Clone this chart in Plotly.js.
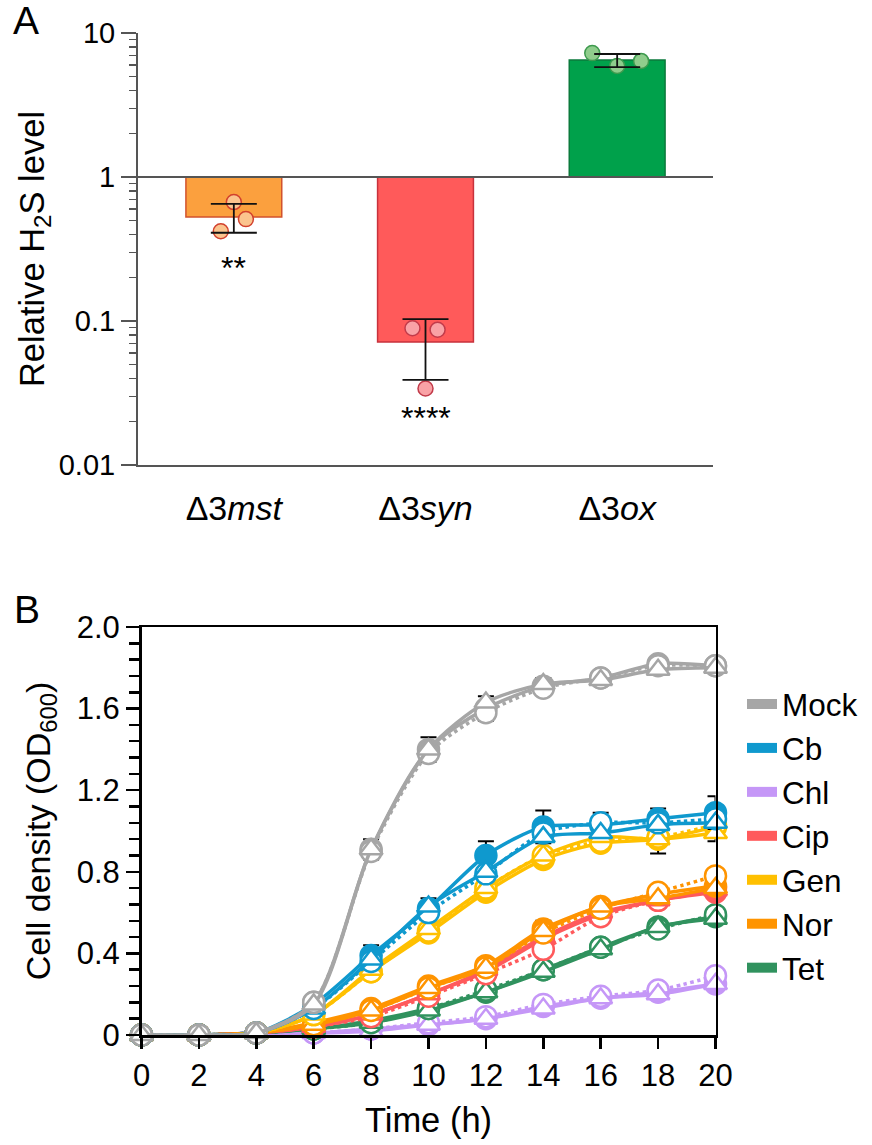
<!DOCTYPE html>
<html>
<head>
<meta charset="utf-8">
<script src="https://cdn.plot.ly/plotly-3.0.1.min.js"></script>
<style>html,body{margin:0;padding:0;background:#fff;}#chart{width:872px;height:1145px;}</style>
</head>
<body>
<div id="chart"></div>
<script>
// ---------- Panel A data ----------
const strainLabels = ['Δ3<i>mst</i>', 'Δ3<i>syn</i>', 'Δ3<i>ox</i>'];
const barMeans = [0.527, 0.0715, 6.49];
const errUpper = [0.65, 0.103, 7.15];
const errLower = [0.41, 0.039, 5.8];
const repMst = [0.67, 0.51, 0.42];
const repSyn = [0.089, 0.087, 0.034];
const repOx = [7.25, 5.9, 6.4];
const significance = ['**', '****', '***'];

// ---------- Panel B data ----------
const hours = [0, 2, 4, 6, 8, 10, 12, 14, 16, 18, 20];
const seriesNames = ['Mock', 'Cb', 'Chl', 'Cip', 'Gen', 'Nor', 'Tet'];

const mockA = [0, 0, 0.01, 0.16, 0.91, 1.40, 1.60, 1.71, 1.75, 1.82, 1.81];
const mockB = [0, 0, 0.01, 0.16, 0.90, 1.38, 1.58, 1.70, 1.75, 1.81, 1.81];
const mockC = [0, 0, 0.01, 0.15, 0.91, 1.40, 1.63, 1.72, 1.74, 1.79, 1.80];
const mockErr = [null, null, null, null, 0.05, 0.06, 0.06, 0.04, 0.03, 0.03, 0.03];

const cbA = [0, 0, 0.01, 0.15, 0.39, 0.62, 0.88, 1.02, 1.03, 1.06, 1.09];
const cbB = [0, 0, 0.01, 0.13, 0.36, 0.60, 0.79, 0.99, 1.04, 1.04, 1.06];
const cbC = [0, 0, 0.01, 0.13, 0.37, 0.63, 0.80, 0.97, 0.99, 1.03, 1.04];
const cbErr = [null, null, null, null, 0.05, 0.05, 0.07, 0.08, 0.06, 0.05, 0.08];

const chlA = [0, 0, 0.01, 0.01, 0.03, 0.05, 0.08, 0.14, 0.18, 0.21, 0.25];
const chlB = [0, 0, 0.01, 0.01, 0.03, 0.06, 0.09, 0.15, 0.19, 0.22, 0.29];
const chlC = [0, 0, 0.01, 0.01, 0.02, 0.05, 0.08, 0.13, 0.18, 0.20, 0.25];
const chlErr = [null, null, null, null, null, null, null, null, null, null, null];

const cipA = [0, 0, 0.01, 0.04, 0.10, 0.20, 0.31, 0.47, 0.59, 0.66, 0.70];
const cipB = [0, 0, 0.01, 0.04, 0.09, 0.19, 0.30, 0.42, 0.58, 0.66, 0.72];
const cipC = [0, 0, 0.01, 0.04, 0.10, 0.20, 0.32, 0.48, 0.60, 0.66, 0.71];
const cipErr = [null, null, null, null, null, null, null, null, null, null, null];

const genA = [0, 0, 0.01, 0.10, 0.31, 0.50, 0.70, 0.86, 0.94, 0.96, 1.02];
const genB = [0, 0, 0.01, 0.10, 0.31, 0.51, 0.72, 0.88, 0.95, 0.97, 1.03];
const genC = [0, 0, 0.01, 0.10, 0.32, 0.52, 0.72, 0.88, 0.97, 0.96, 0.99];
const genErr = [null, null, null, null, null, null, null, null, null, 0.07, 0.07];

const norA = [0, 0, 0.01, 0.06, 0.13, 0.24, 0.34, 0.52, 0.63, 0.69, 0.73];
const norB = [0, 0, 0.01, 0.05, 0.12, 0.23, 0.33, 0.50, 0.62, 0.70, 0.78];
const norC = [0, 0, 0.01, 0.05, 0.12, 0.23, 0.33, 0.51, 0.63, 0.67, 0.72];
const norErr = [null, null, null, null, null, null, null, 0.04, null, null, null];

const tetA = [0, 0, 0.01, 0.03, 0.07, 0.13, 0.21, 0.32, 0.43, 0.53, 0.58];
const tetB = [0, 0, 0.01, 0.03, 0.06, 0.13, 0.22, 0.32, 0.43, 0.52, 0.59];
const tetC = [0, 0, 0.01, 0.03, 0.06, 0.12, 0.21, 0.31, 0.42, 0.53, 0.57];
const tetErr = [null, null, null, null, null, null, null, null, null, null, null];

// ---------- Styles ----------
const FONT = 'Liberation Sans, Arial, Helvetica, sans-serif';
const barFill = ['#FBA03E', '#FF5A5A', '#00A14B'];
const barEdge = ['#D2522C', '#C8323C', '#0B7A3C'];
const ptFill = ['#FBC48E', '#F9A2A6', '#8FCD8C'];
const ptEdge = ['#D2412E', '#C23B4A', '#3E9A4E'];
const repJitter = [[0, 0.063, -0.068], [-0.068, 0.063, 0], [-0.13, 0, 0.125]];
const starLogY = [-0.632, -1.674, 1.069];
const colors = {Mock: '#A6A6A6', Cb: '#0F99CE', Chl: '#C597F7', Cip: '#FF5A5C', Gen: '#FFC000', Nor: '#FF9400', Tet: '#30925E'};

const traces = [];

// Panel A: bars hanging from 1
traces.push({
  type: 'bar', x: [0, 1, 2], y: barMeans.map(v => v - 1), base: [1, 1, 1],
  width: 0.5, marker: {color: barFill, line: {color: barEdge, width: 1.5}},
  xaxis: 'x', yaxis: 'y', showlegend: false, hoverinfo: 'skip'
});
[repMst, repSyn, repOx].forEach((vals, i) => {
  traces.push({
    type: 'scatter', mode: 'markers', x: vals.map((v, k) => i + repJitter[i][k]), y: vals,
    marker: {size: 15, color: ptFill[i], line: {color: ptEdge[i], width: 1.5}},
    xaxis: 'x', yaxis: 'y', showlegend: false, cliponaxis: false, hoverinfo: 'skip'
  });
});
traces.push({
  type: 'scatter', mode: 'markers', x: [0, 1, 2], y: barMeans,
  marker: {size: 1, opacity: 0},
  error_y: {type: 'data', symmetric: false,
    array: errUpper.map((u, i) => u - barMeans[i]),
    arrayminus: errLower.map((l, i) => barMeans[i] - l),
    color: '#111', thickness: 1.8, width: 23},
  xaxis: 'x', yaxis: 'y', showlegend: false, cliponaxis: false, hoverinfo: 'skip'
});

// Panel B
const groups = [
  ['Chl', [chlA, chlB, chlC], chlErr],
  ['Tet', [tetA, tetB, tetC], tetErr],
  ['Cip', [cipA, cipB, cipC], cipErr],
  ['Nor', [norA, norB, norC], norErr],
  ['Gen', [genA, genB, genC], genErr],
  ['Cb', [cbA, cbB, cbC], cbErr],
  ['Mock', [mockA, mockB, mockC], mockErr]
];
groups.forEach(([name, series, err]) => {
  const c = colors[name];
  const styles = [
    {symbol: 'circle', fill: c, dash: 'solid', size: 21},
    {symbol: 'circle', fill: '#FFFFFF', dash: 'dot', size: 21},
    {symbol: 'triangle-up', fill: '#FFFFFF', dash: 'solid', size: 20}
  ];
  series.forEach((ys, k) => {
    const s = styles[k];
    const tr = {
      type: 'scatter', mode: 'lines+markers', x: hours, y: ys,
      line: {color: c, width: 3.5, shape: 'spline', smoothing: 0.8, dash: s.dash},
      marker: {symbol: s.symbol, size: s.size, color: s.fill, line: {color: c, width: 2.5}},
      xaxis: 'x2', yaxis: 'y2', showlegend: false, cliponaxis: false, hoverinfo: 'skip'
    };
    if (k === 0) {
      tr.error_y = {type: 'data', symmetric: true, array: err.map(e => e === null ? NaN : e),
        color: '#000', thickness: 2, width: 8};
    }
    traces.push(tr);
  });
});
// legend entries
seriesNames.forEach(name => {
  traces.push({
    type: 'scatter', mode: 'lines', x: [null], y: [null], name: name,
    line: {color: colors[name], width: 19},
    xaxis: 'x2', yaxis: 'y2', showlegend: true, hoverinfo: 'skip'
  });
});

// minor ticks for log axis
const minorLog = [];
[0.01, 0.1, 1].forEach(d => { for (let m = 2; m <= 9; m++) minorLog.push(+(d * m).toPrecision(3)); });

const W = 872, H = 1145;
const layout = {
  width: W, height: H,
  margin: {l: 0, r: 0, t: 0, b: 0},
  paper_bgcolor: '#fff', plot_bgcolor: 'rgba(0,0,0,0)',
  font: {family: FONT, color: '#000', size: 30},
  showlegend: true,
  barmode: 'overlay',
  xaxis: {
    domain: [138 / W, 713 / W], anchor: 'y', range: [-0.5, 2.5],
    tickmode: 'array', tickvals: [0, 1, 2], ticktext: strainLabels,
    ticks: '', showgrid: false, zeroline: false,
    showline: true, linecolor: '#555', linewidth: 2,
    tickfont: {size: 34, family: FONT}, ticklabelstandoff: 12
  },
  yaxis: {
    domain: [1 - 465 / H, 1 - 33 / H], anchor: 'x', type: 'log', range: [-2, 1],
    tickmode: 'array', tickvals: [0.01, 0.1, 1, 10], ticktext: ['0.01', '0.1', '1', '10'],
    ticks: 'outside', ticklen: 15, tickwidth: 2, tickcolor: '#555',
    minor: {tickmode: 'array', tickvals: minorLog, ticks: 'outside', ticklen: 7, tickwidth: 1.5, tickcolor: '#555', showgrid: false},
    showgrid: false, zeroline: false, showline: true, linecolor: '#555', linewidth: 2,
    tickfont: {size: 29, family: FONT},
    title: {text: 'Relative H<sub>2</sub>S level', font: {size: 34.5, family: FONT}, standoff: 4}
  },
  xaxis2: {
    domain: [141.5 / W, 715.5 / W], anchor: 'y2', range: [0, 20],
    tickmode: 'linear', tick0: 0, dtick: 2,
    ticks: 'outside', ticklen: 11, tickwidth: 2.5, tickcolor: '#000',
    showgrid: false, zeroline: false, showline: true, linecolor: '#000', linewidth: 2.5, mirror: true,
    tickfont: {size: 31, family: FONT},
    title: {text: 'Time (h)', font: {size: 34.5, family: FONT}, standoff: 16}
  },
  yaxis2: {
    domain: [1 - 1035 / H, 1 - 627 / H], anchor: 'x2', range: [0, 2],
    tickmode: 'array', tickvals: [0, 0.4, 0.8, 1.2, 1.6, 2.0], ticktext: ['0', '0.4', '0.8', '1.2', '1.6', '2.0'],
    ticks: 'outside', ticklen: 13, tickwidth: 2.5, tickcolor: '#000',
    minor: {dtick: 0.08, tick0: 0, ticks: 'outside', ticklen: 10, tickwidth: 2.5, tickcolor: '#000', showgrid: false},
    showgrid: false, zeroline: false, showline: true, linecolor: '#000', linewidth: 2.5, mirror: true,
    tickfont: {size: 31, family: FONT},
    title: {text: 'Cell density (OD<sub>600</sub>)', font: {size: 34, family: FONT}, standoff: 16}
  },
  legend: {
    x: 742 / W, xanchor: 'left', y: 1 - 677 / H, yanchor: 'top',
    font: {size: 31.5, family: FONT, color: '#000'},
    bgcolor: 'rgba(0,0,0,0)', borderwidth: 0, itemwidth: 30, tracegroupgap: 0
  },
  shapes: [
    {type: 'line', xref: 'x domain', yref: 'y', x0: 0, x1: 1, y0: 1, y1: 1, line: {color: '#555', width: 2}}
  ],
  annotations: [
    {text: 'A', xref: 'paper', yref: 'paper', x: 26 / W, y: 1 - 21 / H, showarrow: false, font: {size: 39, family: FONT}, xanchor: 'center', yanchor: 'middle'},
    {text: 'B', xref: 'paper', yref: 'paper', x: 27 / W, y: 1 - 609 / H, showarrow: false, font: {size: 39, family: FONT}, xanchor: 'center', yanchor: 'middle'}
  ].concat(significance.map((s, i) => ({
    text: s, xref: 'x', yref: 'y', x: i, y: starLogY[i], showarrow: false,
    font: {size: 32, family: FONT}, xanchor: 'center', yanchor: 'middle'
  })))
};

Plotly.newPlot('chart', traces, layout, {staticPlot: true, displayModeBar: false});
</script>
</body>
</html>
